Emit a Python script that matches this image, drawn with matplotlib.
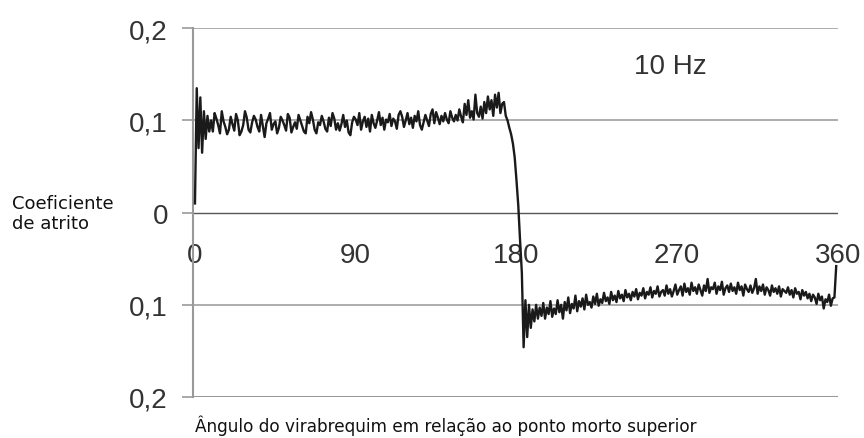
import numpy as np
import matplotlib
matplotlib.use("Agg")
import matplotlib.pyplot as plt

# friction coefficient, in thousandths, one value per degree of crank angle (0..359)
friction_milli = [
    10, 135, 70, 125, 65, 110, 80, 105, 88, 100,
    88, 108, 102, 95, 86, 110, 99, 93, 85, 90,
    104, 96, 89, 107, 100, 84, 88, 95, 110, 103,
    90, 87, 98, 105, 101, 93, 88, 106, 94, 82,
    97, 102, 108, 90, 96, 99, 86, 92, 104, 100,
    95, 89, 107, 103, 87, 93, 98, 91, 106, 100,
    94, 88, 86, 104, 97, 109, 101, 90, 86, 98,
    95, 105, 99, 91, 88, 103, 94, 108, 102, 90,
    97, 89, 96, 106, 93, 100, 87, 84, 98, 104,
    101, 95, 108, 90, 99, 104, 93, 102, 88, 106,
    97, 92, 100, 109, 95, 103, 90, 101, 98, 107,
    94, 102, 99, 91, 106, 110, 104, 93, 100, 108,
    96, 103, 92, 105, 99, 110, 95, 90, 98, 106,
    100, 94, 107, 112, 97, 109, 103, 96, 105, 99,
    108, 101, 97, 110, 103, 99, 106, 100, 112, 104,
    98, 118, 106, 122, 103, 110, 101, 128, 108, 104,
    115, 102, 120, 108, 126, 112, 122, 105, 128, 114,
    130, 108, 118, 120, 105, 100, 92, 85, 75, 60,
    35, 8, -30, -65, -146, -95, -135, -100, -125, -105,
    -118, -100, -115, -103, -112, -98, -115, -103, -110, -96,
    -113, -104, -110, -95, -108, -100, -115, -97, -106, -92,
    -109, -99, -104, -90, -107, -96, -102, -93, -105, -89,
    -100, -97, -103, -91, -99, -88, -101, -94, -98, -87,
    -96, -92, -99, -86, -95, -90, -97, -85, -93, -89,
    -96, -84, -92, -88, -95, -86, -91, -83, -94, -87,
    -90, -82, -93, -86, -89, -81, -92, -85, -88, -80,
    -91, -86, -84, -90, -79, -88, -83, -91, -85, -78,
    -89, -84, -80, -90, -77, -86, -82, -89, -76, -85,
    -81, -88, -78, -84, -90, -79, -85, -72, -87, -81,
    -83, -76, -88, -80, -84, -75, -89, -82, -79, -86,
    -77, -85, -81, -88, -76, -84, -80, -90, -78, -83,
    -86, -79, -87, -82, -72, -88, -80, -85, -78, -89,
    -81, -84, -90, -79, -86, -82, -88, -80, -91, -83,
    -85, -87, -81, -89, -84, -92, -82, -88, -86, -94,
    -84, -90, -86, -93, -88, -96, -89, -92, -99, -88,
    -95, -91, -104, -94, -97, -89, -101, -93, -92, -58,
]
angle = np.arange(len(friction_milli))
friction = np.array(friction_milli) / 1000.0

x_ticks = [0, 90, 180, 270, 360]
y_ticks = [0.2, 0.1, 0.0, -0.1, -0.2]
y_tick_labels = ["0,2", "0,1", "0", "0,1", "0,2"]

fig = plt.figure(figsize=(8.64, 4.39), dpi=100)
ax = fig.add_axes([193 / 864, 0.0934, (838 - 193) / 864, 0.9333 - 0.0934])

# gridlines
for yv in [0.2, 0.1, -0.1]:
    ax.axhline(yv, color="#a0a0a0", lw=1.2, zorder=1)
ax.axhline(0, color="#555555", lw=1.0, zorder=1)
ax.axhline(-0.2, color="#999999", lw=2.2, zorder=1)

ax.plot(angle, friction, color="#1a1a1a", lw=1.7, zorder=3)

ax.set_xlim(-1.1, 360)
ax.set_ylim(-0.2, 0.2)

for s in ["top", "right", "bottom"]:
    ax.spines[s].set_visible(False)
ax.spines["left"].set_color("#999999")
ax.spines["left"].set_linewidth(1.5)

ax.set_xticks([])
ax.set_yticks(y_ticks)
ax.set_yticklabels(y_tick_labels, family="Liberation Sans", fontsize=20, color="#333333")
ax.tick_params(axis="y", length=8, width=1.2, color="#999999", pad=10)

for xv in x_ticks:
    ax.text(xv, -0.046, str(xv), ha="center", va="center",
            family="Liberation Sans", fontsize=20, color="#333333", zorder=2)

ax.text(266, 0.159, "10 Hz", ha="center", va="center",
        family="Liberation Sans", fontsize=20, color="#333333")

fig.text(12 / 864, 1 - 214 / 439, "Coeficiente\nde atrito", ha="left", va="center",
         family="DejaVu Sans", fontsize=13, linespacing=1.1, color="#111111")
fig.text(195 / 864, 1 - 426 / 439, "Ângulo do virabrequim em relação ao ponto morto superior",
         ha="left", va="center", family="DejaVu Sans", fontsize=12.2, color="#111111")

fig.savefig("out.png", dpi=100)
